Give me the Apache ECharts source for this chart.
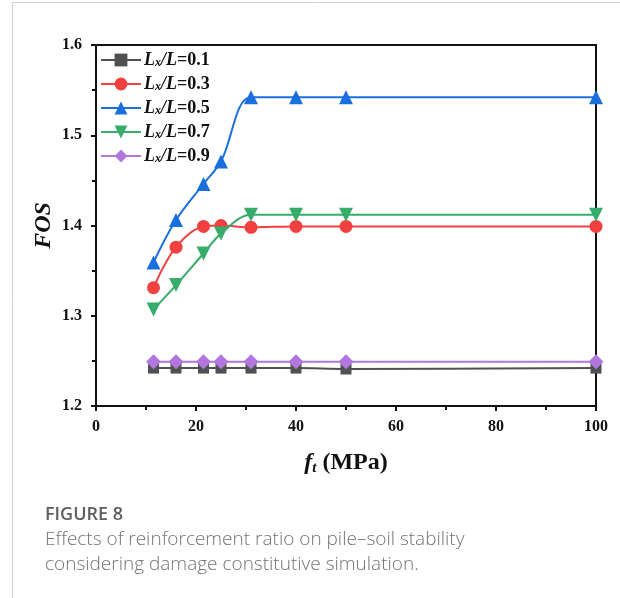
<!DOCTYPE html>
<html>
<head>
<meta charset="utf-8">
<script src="https://cdn.jsdelivr.net/npm/echarts@6/dist/echarts.min.js"></script>
<style>
html,body{margin:0;padding:0;background:#fff;}
#chart{width:620px;height:598px;}
</style>
</head>
<body>
<div id="chart"></div>
<script>
var ftValues = [11.5, 16, 21.5, 25, 31, 40, 50, 100];
var seriesNames = ['0.1', '0.3', '0.5', '0.7', '0.9'];
var fos01 = [1.242, 1.242, 1.242, 1.242, 1.242, 1.242, 1.241, 1.242];
var fos03 = [1.331, 1.376, 1.399, 1.400, 1.398, 1.399, 1.399, 1.399];
var fos05 = [1.359, 1.406, 1.446, 1.471, 1.542, 1.542, 1.542, 1.542];
var fos07 = [1.307, 1.334, 1.369, 1.391, 1.412, 1.412, 1.412, 1.412];
var fos09 = [1.249, 1.249, 1.249, 1.249, 1.249, 1.249, 1.249, 1.249];
var xTicks = [0, 20, 40, 60, 80, 100];
var yTicks = [1.2, 1.3, 1.4, 1.5, 1.6];

var allFos = [fos01, fos03, fos05, fos07, fos09];
var colors = ['#515151', '#F14040', '#1A6FDF', '#37AD6B', '#B177DE'];
var symbols = ['rect', 'circle', 'triangle', 'path://M0,0 L10,0 L5,9 Z', 'diamond'];
var symbolSizes = [11, 13, 14, 14, 15];

var serif = '"Liberation Serif", "Times New Roman", serif';
var sans = '"Open Sans", Lato, sans-serif';

var chart = echarts.init(document.getElementById('chart'), null, {renderer: 'canvas'});

var series = allFos.map(function (vals, i) {
  return {
    name: seriesNames[i],
    type: 'line',
    smooth: 0.35,
    data: ftValues.map(function (x, j) { return [x, vals[j]]; }),
    symbol: symbols[i],
    symbolSize: symbolSizes[i],
    showAllSymbol: true,
    color: colors[i],
    lineStyle: {width: 2, color: colors[i]},
    itemStyle: {color: colors[i]},
    z: 2 + i
  };
});

var richLegend = {
  i: {fontFamily: serif, fontStyle: 'italic', fontWeight: 'bold', fontSize: 18, lineHeight: 18, color: '#111'},
  sub: {fontFamily: serif, fontStyle: 'italic', fontWeight: 'bold', fontSize: 12, lineHeight: 8, verticalAlign: 'bottom', color: '#111'},
  n: {fontFamily: serif, fontWeight: 'bold', fontSize: 18, lineHeight: 18, color: '#111'}
};

chart.setOption({
  animation: false,
  backgroundColor: '#fff',
  grid: {left: 96, top: 45, right: 24, bottom: 192, show: true, borderColor: '#111', borderWidth: 2},
  legend: {
    left: 100, top: 51, orient: 'vertical', padding: 0,
    itemWidth: 40, itemHeight: 16, itemGap: 6,
    data: seriesNames,
    formatter: function (name) { return '{i|L}{sub|x}{i|/L}{n|=' + name + '}'; },
    textStyle: {rich: richLegend, padding: [0, 0, 0, -2]}
  },
  xAxis: {
    type: 'value', min: 0, max: 100, interval: 20,
    name: '{f|f}{sub|t}{n| (MPa)}',
    nameLocation: 'middle', nameGap: 44, nameMoveOverlap: false,
    nameTextStyle: {
      rich: {
        f: {fontFamily: serif, fontStyle: 'italic', fontWeight: 'bold', fontSize: 24, lineHeight: 26, color: '#111'},
        sub: {fontFamily: serif, fontStyle: 'italic', fontWeight: 'bold', fontSize: 15, lineHeight: 10, verticalAlign: 'bottom', color: '#111'},
        n: {fontFamily: serif, fontWeight: 'bold', fontSize: 24, lineHeight: 26, color: '#111'}
      }
    },
    axisLine: {lineStyle: {color: '#111', width: 2}},
    axisTick: {show: true, inside: false, length: 5, lineStyle: {color: '#111', width: 2}},
    minorTick: {show: true, splitNumber: 2, length: 4, lineStyle: {color: '#111', width: 2}},
    splitLine: {show: false},
    axisLabel: {
      margin: 13, fontFamily: serif, fontWeight: 'bold', fontSize: 16, color: '#111',
      customValues: xTicks
    }
  },
  yAxis: {
    type: 'value', min: 1.2, max: 1.6, interval: 0.1,
    name: 'FOS', nameLocation: 'middle', nameGap: 40, nameRotate: 90, nameMoveOverlap: false,
    nameTextStyle: {fontFamily: serif, fontStyle: 'italic', fontWeight: 'bold', fontSize: 24, color: '#111'},
    axisLine: {show: true, lineStyle: {color: '#111', width: 2}},
    axisTick: {show: true, inside: false, length: 5, lineStyle: {color: '#111', width: 2}},
    minorTick: {show: true, splitNumber: 2, length: 4, lineStyle: {color: '#111', width: 2}},
    splitLine: {show: false},
    axisLabel: {
      margin: 14, fontFamily: serif, fontWeight: 'bold', fontSize: 16, color: '#111',
      formatter: function (v) { return v.toFixed(1); },
      customValues: yTicks
    }
  },
  series: series,
  graphic: [
    {type: 'line', shape: {x1: 12.5, y1: 2.5, x2: 620, y2: 2.5}, style: {stroke: '#cfcfcf', lineWidth: 1}, silent: true},
    {type: 'line', shape: {x1: 12.5, y1: 2.5, x2: 12.5, y2: 598}, style: {stroke: '#cfcfcf', lineWidth: 1}, silent: true},
    {type: 'text', left: 45, top: 506, style: {text: 'FIGURE 8', fontFamily: sans, fontWeight: 600, fontSize: 18, fill: '#5e5e5e'}},
    {type: 'text', left: 45, top: 530, style: {text: 'Effects of reinforcement ratio on pile\u2013soil stability', fontFamily: sans, fontWeight: 300, fontSize: 19, fill: '#737373'}},
    {type: 'text', left: 45, top: 555, style: {text: 'considering damage constitutive simulation.', fontFamily: sans, fontWeight: 300, fontSize: 19, fill: '#737373'}}
  ]
});
</script>
</body>
</html>
